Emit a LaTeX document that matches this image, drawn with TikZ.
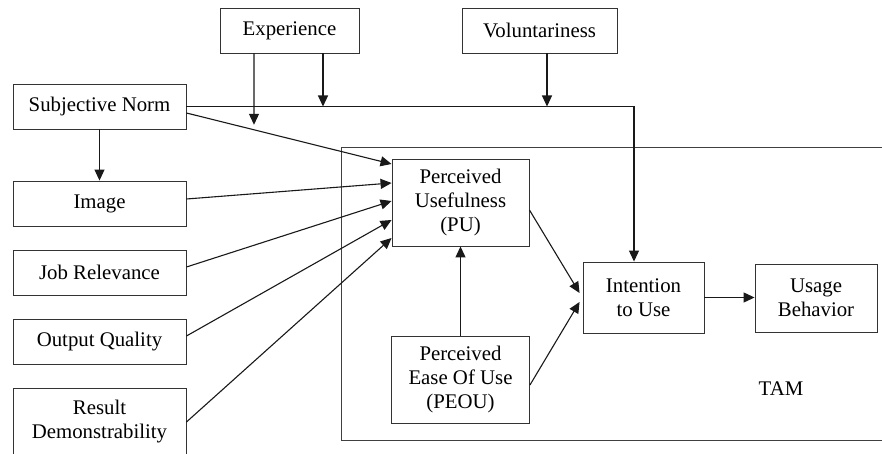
\documentclass[tikz,border=0pt]{standalone}
\usepackage{fontspec}
\setmainfont{Liberation Serif}
\usetikzlibrary{arrows.meta,calc}
\begin{document}
\begin{tikzpicture}[x=1pt,y=-1pt,
  box/.style={draw=black!80,line width=0.9pt,align=center,inner sep=0pt,
    font=\fontsize{20.8}{24}\selectfont},
  arr/.style={draw=black!90,line width=1.1pt,-{Triangle[length=11pt,width=10pt]}},
  plain/.style={draw=black!90,line width=1.1pt}]
\useasboundingbox (0,0) rectangle (882,454);
\clip (0,0) rectangle (882,454);
\fill[white] (0,0) rectangle (882,454);

% TAM frame, open off the right side
\draw[draw=black!75,line width=0.9pt] (900,147) -- (341,147) -- (341,440) -- (900,440);
\node[font=\fontsize{20.8}{24}\selectfont] (tam) at (781,389) {TAM};

% external variables
\node[box,minimum width=139,minimum height=45] (exp) at (289.5,30.5) {Experience};
\node[box,minimum width=155,minimum height=45] (vol) at (539.5,30.5) {Voluntariness};
\node[box,minimum width=173,minimum height=45] (sn)  at (99.5,106.5) {Subjective Norm};
\node[box,minimum width=173,minimum height=45] (img) at (99.5,203.5) {Image};
\node[box,minimum width=173,minimum height=45] (jr)  at (99.5,272.5) {Job Relevance};
\node[box,minimum width=173,minimum height=45] (oq)  at (99.5,341.5) {Output Quality};
\node[box,minimum width=173,minimum height=68] (rd)  at (99.5,422) {Result\\Demonstrability};

% TAM constructs
\node[box,minimum width=137,minimum height=87] (pu)   at (460.5,202.5) {Perceived\\Usefulness\\(PU)};
\node[box,minimum width=138,minimum height=87] (peou) at (460.5,379.5) {Perceived\\Ease Of Use\\(PEOU)};
\node[box,minimum width=121,minimum height=71] (iu)   at (643.5,297.5) {Intention\\to Use};
\node[box,minimum width=122,minimum height=68] (ub)   at (816,298) {Usage\\Behavior};

% subjective norm paths
\draw[arr] (sn) -- (img);
\coordinate (snA) at ($(sn.east)+(0,6.5)$);
\coordinate (puA) at ($(pu.west)+(0,-38.5)$);
\draw[arr] (snA) -- (puA);
\coordinate (iuTop) at ($(iu.north)+(-9.5,0)$);
\draw[arr] (sn.east) -| (iuTop);

% moderators
\coordinate (expL) at ($(exp.south)+(-35.5,0)$);
\coordinate (expLb) at ($(expL)+(0,200)$);
\coordinate (expR) at ($(exp.south)+(33.5,0)$);
\coordinate (volS) at ($(vol.south)+(7.5,0)$);
\coordinate (expX) at (intersection of expL--expLb and snA--puA);
\draw[arr,shorten >=5pt] (expL) -- (expX);
\draw[arr] (expR) -- (expR |- sn.east);
\draw[arr] (volS) -- (volS |- sn.east);

% determinants of perceived usefulness
\draw[arr] ($(img.east)+(0,-4.5)$) -- ($(pu.west)+(0,-19.5)$);
\draw[arr] ($(jr.east)+(0,-5.5)$)  -- ($(pu.west)+(0,-1.5)$);
\draw[arr] ($(oq.east)+(0,-5.5)$)  -- ($(pu.west)+(0,17.5)$);
\draw[arr] (rd.east) -- ($(pu.west)+(0,35.5)$);

% core TAM relations
\draw[arr] (peou.north) -- (peou.north |- pu.south);
\draw[arr] ($(pu.east)+(0,7.5)$) -- ($(iu.west)+(-3,-4.5)$);
\draw[arr] ($(peou.east)+(0,5.5)$) -- ($(iu.west)+(-3,4.5)$);
\draw[arr] (iu.east) -- (iu.east -| ub.west);
\end{tikzpicture}
\end{document}
